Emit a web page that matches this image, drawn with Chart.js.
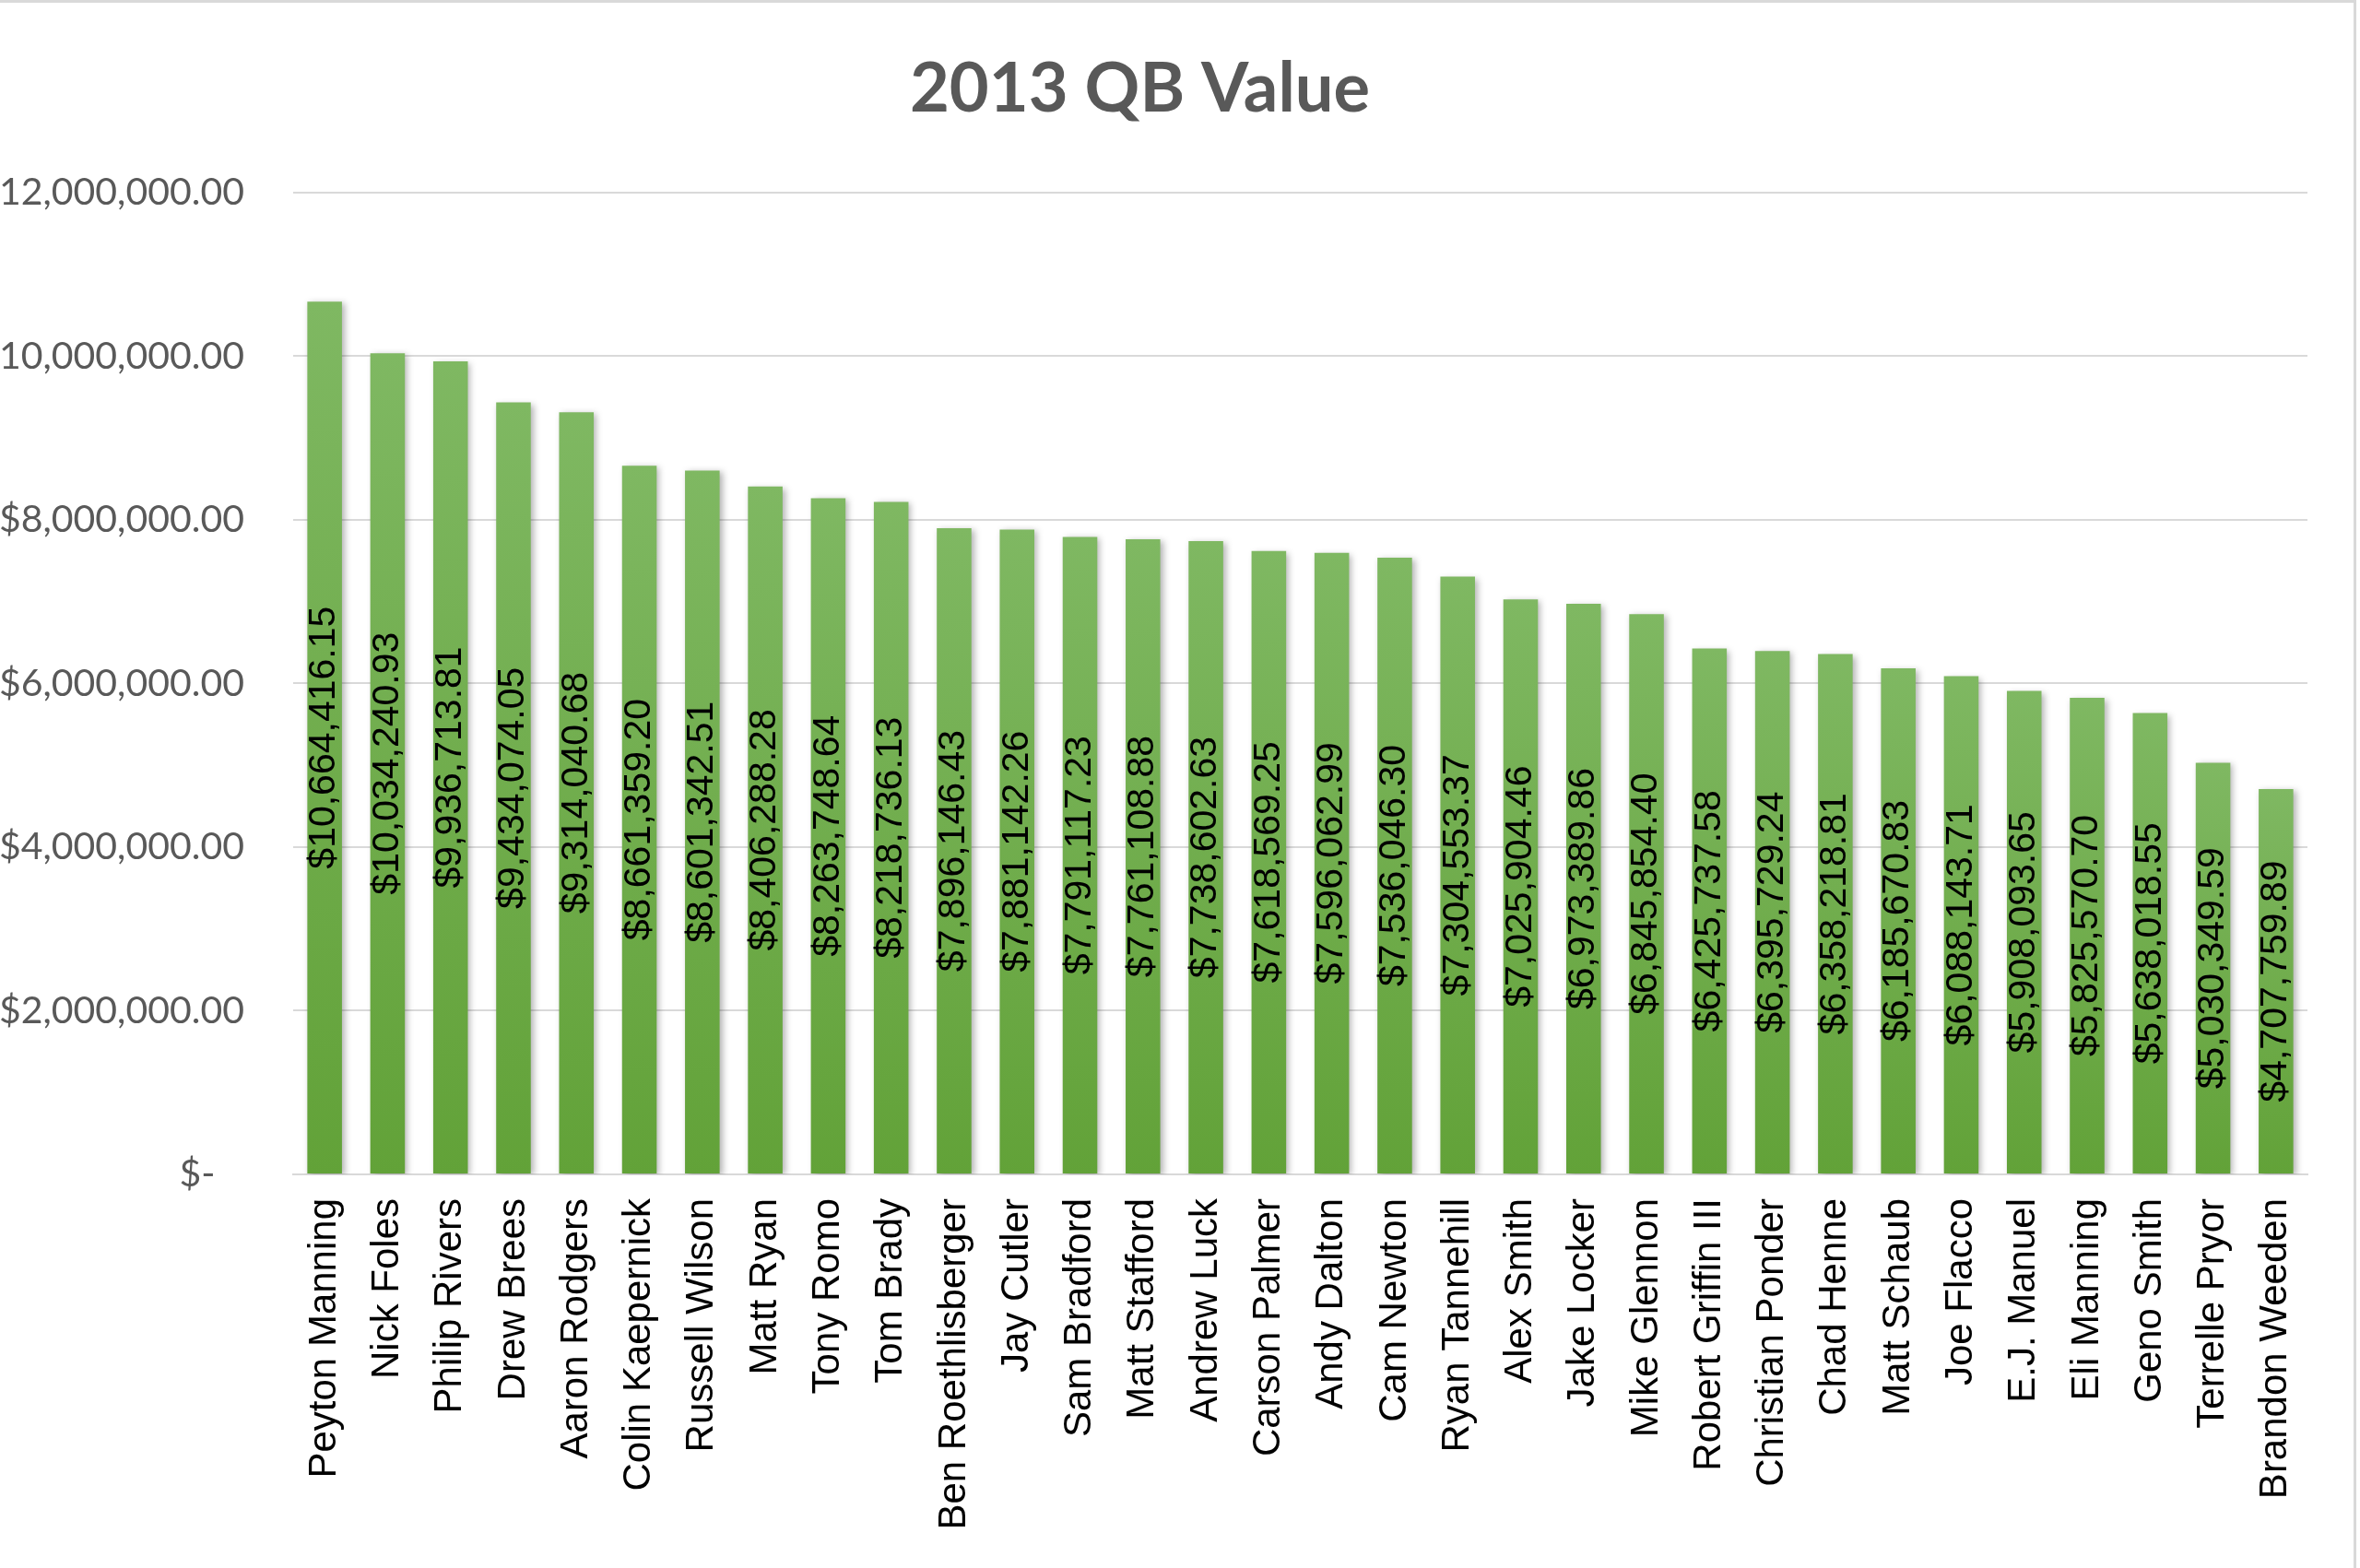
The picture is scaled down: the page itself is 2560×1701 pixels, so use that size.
<!DOCTYPE html>
<html>
<head>
<meta charset="utf-8">
<title>2013 QB Value</title>
<script src="https://cdn.jsdelivr.net/npm/chart.js@4.4.1/dist/chart.umd.min.js"></script>
<style>
  html, body { margin: 0; padding: 0; background: #fff; overflow: hidden; }
  #wrap { position: relative; width: 2560px; height: 1701px; overflow: hidden; }
  #qbChart { position: absolute; left: -60px; top: 0; }
  #frame {
    position: absolute; left: -10px; top: 0; width: 2566px; height: 1760px;
    box-sizing: border-box; border-top: 3px solid #d9d9d9; border-right: 3px solid #d9d9d9;
  }
</style>
</head>
<body>
<div id="wrap">
  <canvas id="qbChart" width="2620" height="1701" style="width:2620px;height:1701px"></canvas>
  <div id="frame"></div>
</div>
<script>
// players, sorted as in the sheet
const qbNames = [
  "Peyton Manning", "Nick Foles", "Philip Rivers", "Drew Brees", "Aaron Rodgers",
  "Colin Kaepernick", "Russell Wilson", "Matt Ryan", "Tony Romo", "Tom Brady",
  "Ben Roethlisberger", "Jay Cutler", "Sam Bradford", "Matt Stafford", "Andrew Luck",
  "Carson Palmer", "Andy Dalton", "Cam Newton", "Ryan Tannehill", "Alex Smith",
  "Jake Locker", "Mike Glennon", "Robert Griffin III", "Christian Ponder", "Chad Henne",
  "Matt Schaub", "Joe Flacco", "E.J. Manuel", "Eli Manning", "Geno Smith",
  "Terrelle Pryor", "Brandon Weeden"
];

const qbValues = [
  10664416.15, 10034240.93, 9936713.81, 9434074.05, 9314040.68,
  8661359.20, 8601342.51, 8406288.28, 8263748.64, 8218736.13,
  7896146.43, 7881142.26, 7791117.23, 7761108.88, 7738602.63,
  7618569.25, 7596062.99, 7536046.30, 7304553.37, 7025904.46,
  6973389.86, 6845854.40, 6425737.58, 6395729.24, 6358218.81,
  6185670.83, 6088143.71, 5908093.65, 5825570.70, 5638018.55,
  5030349.59, 4707759.89
];

const yMax = 12000000;
const yStep = 2000000;

function money(v) {
  if (v === 0) return "$-   ";
  return "$" + v.toLocaleString("en-US", { minimumFractionDigits: 2, maximumFractionDigits: 2 });
}

// per-bar gradient, lighter at the top
function barFill(context) {
  const chart = context.chart;
  const { ctx, chartArea, scales } = chart;
  if (!chartArea || !scales.y) return "#70ad47";
  const top = scales.y.getPixelForValue(context.raw);
  const bottom = scales.y.getPixelForValue(0);
  const g = ctx.createLinearGradient(0, top, 0, bottom);
  g.addColorStop(0, "#7fb862");
  g.addColorStop(1, "#62a238");
  return g;
}

const barShadow = {
  id: "barShadow",
  beforeDatasetsDraw(chart) {
    const ctx = chart.ctx;
    ctx.save();
    ctx.shadowColor = "rgba(0,0,0,0.3)";
    ctx.shadowBlur = 7;
    ctx.shadowOffsetX = 3;
    ctx.shadowOffsetY = 2;
  },
  afterDatasetsDraw(chart) {
    chart.ctx.restore();
  }
};

const valueLabels = {
  id: "valueLabels",
  afterDatasetsDraw(chart) {
    const ctx = chart.ctx;
    const meta = chart.getDatasetMeta(0);
    ctx.save();
    ctx.font = '41px "Liberation Sans", Arial, sans-serif';
    ctx.fillStyle = "#000";
    ctx.textAlign = "center";
    ctx.textBaseline = "middle";
    meta.data.forEach((bar, i) => {
      const p = bar.getProps(["x", "y", "base"], true);
      ctx.save();
      ctx.translate(p.x, (p.y + p.base) / 2);
      ctx.rotate(-Math.PI / 2);
      ctx.fillText(money(qbValues[i]), 0, 0);
      ctx.restore();
    });
    ctx.restore();
  }
};

function drawChart() {
  const ctx = document.getElementById("qbChart").getContext("2d");
  new Chart(ctx, {
    type: "bar",
    data: {
      labels: qbNames,
      datasets: [{
        label: "Value",
        data: qbValues,
        backgroundColor: barFill,
        borderWidth: 0,
        barPercentage: 0.55,
        categoryPercentage: 1.0
      }]
    },
    options: {
      responsive: false,
      animation: false,
      devicePixelRatio: 1,
      layout: { padding: { left: 30, right: 57, top: 0, bottom: 0 } },
      plugins: {
        legend: { display: false },
        tooltip: { enabled: false },
        title: {
          display: true,
          text: "2013 QB Value",
          color: "#595959",
          font: { family: "Lato", size: 74, weight: "bold" },
          padding: { top: 53, bottom: 67 }
        }
      },
      scales: {
        x: {
          grid: { display: false, drawTicks: false },
          border: { display: true, color: "#d9d9d9", width: 2 },
          ticks: {
            color: "#000",
            font: { family: "Liberation Sans", size: 42 },
            minRotation: 90,
            maxRotation: 90,
            autoSkip: false,
            padding: 26
          },
          afterFit(scale) { scale.height = 427; }
        },
        y: {
          min: 0,
          max: yMax,
          grid: { color: "#d9d9d9", lineWidth: 2, drawTicks: false },
          border: { display: false },
          ticks: {
            stepSize: yStep,
            color: "#595959",
            font: { family: "Lato", size: 41 },
            padding: 53,
            callback: (v) => money(v)
          },
          afterFit(scale) { scale.width = 348; }
        }
      }
    },
    plugins: [barShadow, valueLabels]
  });
}

document.fonts.ready.then(drawChart);
</script>
</body>
</html>
